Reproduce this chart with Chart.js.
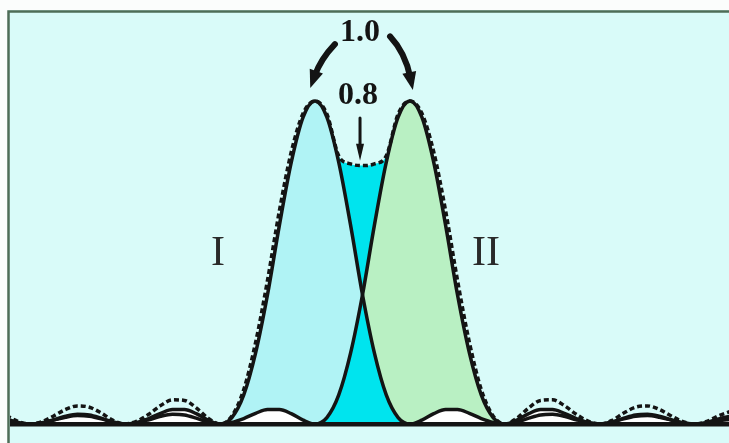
<!DOCTYPE html>
<html>
<head>
<meta charset="utf-8">
<script src="https://cdn.jsdelivr.net/npm/chart.js@4.4.1/dist/chart.umd.min.js"></script>
<style>
  html, body { margin: 0; padding: 0; background: #fff; }
  canvas { display: block; }
</style>
</head>
<body>
<canvas id="rayleigh" width="729" height="443"></canvas>
<script>
// positions along the screen, in units of the first-zero distance
const xs = [
  -3.25, -3.125, -3, -2.875, -2.75, -2.625, -2.5, -2.375, -2.25, -2.125,
  -2, -1.875, -1.75, -1.625, -1.5, -1.375, -1.25, -1.125, -1, -0.875,
  -0.75, -0.625, -0.5, -0.375, -0.25, -0.125, 0, 0.125, 0.25, 0.375,
  0.5, 0.625, 0.75, 0.875, 1, 1.125, 1.25, 1.375, 1.5, 1.625,
  1.75, 1.875, 2, 2.125, 2.25, 2.375, 2.5, 2.625, 2.75, 2.875,
  3, 3.125, 3.25, 3.375, 3.5, 3.625, 3.75, 3.875, 4, 4.125,
  4.25, 4.375
];

// intensity of source I
const curveI = [
  0.016, 0.005, 0, 0.004, 0.013, 0.024, 0.03, 0.028, 0.018, 0.006,
  0, 0.005, 0.017, 0.033, 0.045, 0.045, 0.032, 0.012, 0, 0.02,
  0.09, 0.22, 0.40, 0.615, 0.81, 0.95, 1.00, 0.95, 0.81, 0.615,
  0.40, 0.22, 0.09, 0.02, 0, 0.012, 0.032, 0.045, 0.045, 0.033,
  0.017, 0.005, 0, 0.006, 0.018, 0.028, 0.03, 0.024, 0.013, 0.004,
  0, 0.005, 0.016, 0.024, 0.026, 0.021, 0.012, 0.003, 0, 0.003,
  0.01, 0.015
];

// intensity of source II
const curveII = [
  0.01, 0.003, 0, 0.003, 0.012, 0.021, 0.026, 0.024, 0.016, 0.005,
  0, 0.004, 0.013, 0.024, 0.03, 0.028, 0.018, 0.006, 0, 0.005,
  0.017, 0.033, 0.045, 0.045, 0.032, 0.012, 0, 0.02, 0.09, 0.22,
  0.40, 0.615, 0.81, 0.95, 1.00, 0.95, 0.81, 0.615, 0.40, 0.22,
  0.09, 0.02, 0, 0.012, 0.032, 0.045, 0.045, 0.033, 0.017, 0.005,
  0, 0.006, 0.018, 0.028, 0.03, 0.024, 0.013, 0.004, 0, 0.005,
  0.016, 0.024
];

// combined intensity (dashed)
const total = [
  0.026, 0.008, 0, 0.007, 0.025, 0.045, 0.056, 0.052, 0.034, 0.011,
  0, 0.009, 0.03, 0.057, 0.075, 0.073, 0.05, 0.018, 0, 0.025,
  0.107, 0.253, 0.445, 0.66, 0.842, 0.962, 1.0, 0.96, 0.83, 0.805,
  0.80, 0.805, 0.83, 0.96, 1.0, 0.962, 0.842, 0.66, 0.445, 0.253,
  0.107, 0.025, 0, 0.018, 0.05, 0.073, 0.075, 0.057, 0.03, 0.009,
  0, 0.011, 0.034, 0.052, 0.056, 0.045, 0.025, 0.007, 0, 0.008,
  0.026, 0.039
];

const peakLabel = "1.0";
const dipLabel = "0.8";
const sourceNames = ["I", "II"];

const BG = "#d9fbf9";
const FILL_I = "#b0f3f5";
const FILL_II = "#b9f0c3";
const OVERLAP = "#00e4ee";
const INK = "#141414";
const CLEAR = "rgba(0,0,0,0)";

const pts = ys => xs.map((x, i) => ({ x: x, y: ys[i] }));

// colour a fill only outside the [lo, hi] stretch (the side lobes)
const outside = (lo, hi, color) => c =>
  (c.p0.parsed.x >= lo && c.p1.parsed.x <= hi) ? CLEAR : color;
const inside = (lo, hi, color) => c =>
  (c.p0.parsed.x >= lo && c.p1.parsed.x <= hi) ? color : CLEAR;

const framePlugin = {
  id: "frame",
  beforeDraw(chart) {
    const ctx = chart.ctx;
    ctx.save();
    ctx.fillStyle = "#fbfdfc";
    ctx.fillRect(0, 0, chart.width, chart.height);
    ctx.fillStyle = BG;
    ctx.fillRect(8, 10, chart.width - 8, chart.height - 10);
    ctx.strokeStyle = "#4e6d57";
    ctx.lineWidth = 2.5;
    ctx.beginPath();
    ctx.moveTo(8.5, chart.height);
    ctx.lineTo(8.5, 11.5);
    ctx.lineTo(chart.width, 11.5);
    ctx.stroke();
    ctx.restore();
  }
};

function arrow(ctx, p0, pc, p1, w, head, half) {
  const ang = Math.atan2(p1.y - pc.y, p1.x - pc.x);
  const cos = Math.cos(ang), sin = Math.sin(ang);
  ctx.lineWidth = w;
  ctx.lineCap = "round";
  ctx.beginPath();
  ctx.moveTo(p0.x, p0.y);
  ctx.quadraticCurveTo(pc.x, pc.y, p1.x - cos * head * 0.7, p1.y - sin * head * 0.7);
  ctx.stroke();
  ctx.beginPath();
  ctx.moveTo(p1.x, p1.y);
  ctx.lineTo(p1.x - cos * head + sin * half, p1.y - sin * head - cos * half);
  ctx.lineTo(p1.x - cos * head - sin * half, p1.y - sin * head + cos * half);
  ctx.closePath();
  ctx.fill();
}

const notesPlugin = {
  id: "notes",
  afterDraw(chart) {
    const { ctx } = chart;
    const sx = chart.scales.x, sy = chart.scales.y;
    const at = (u, v) => ({ x: sx.getPixelForValue(u), y: sy.getPixelForValue(v) });
    ctx.save();
    ctx.fillStyle = INK;
    ctx.strokeStyle = INK;

    // arrows from the peak label to both maxima, and down to the dip
    arrow(ctx, at(0.21, 1.176), at(0.06, 1.13), at(-0.05, 1.04), 6, 18, 7);
    arrow(ctx, at(0.79, 1.2), at(0.95, 1.15), at(1.03, 1.034), 6, 18, 7);
    arrow(ctx, at(0.474, 0.947), at(0.474, 0.88), at(0.474, 0.815), 3, 17, 4);

    ctx.textAlign = "center";
    ctx.textBaseline = "middle";
    ctx.font = "bold 32px 'Liberation Serif', 'Times New Roman', serif";
    let p = at(0.474, 1.21);
    ctx.fillText(peakLabel, p.x, p.y);
    p = at(0.453, 1.015);
    ctx.fillText(dipLabel, p.x, p.y);

    ctx.fillStyle = "#2a2a2a";
    ctx.font = "42px 'Liberation Serif', 'Times New Roman', serif";
    p = at(-1.02, 0.527);
    ctx.fillText(sourceNames[0], p.x, p.y);
    p = at(1.8, 0.527);
    ctx.fillText(sourceNames[1], p.x, p.y);
    ctx.restore();
  }
};

const ctx = document.getElementById("rayleigh").getContext("2d");

new Chart(ctx, {
  type: "line",
  data: {
    datasets: [
      // outlines of the two single-source patterns
      { label: "I", data: pts(curveI), borderColor: INK, borderWidth: 3.5, fill: false, order: 1 },
      { label: "II", data: pts(curveII), borderColor: INK, borderWidth: 3.5, fill: false, order: 1 },
      // resulting pattern, dashed
      { label: "I+II", data: pts(total), borderColor: INK, borderWidth: 3.5, borderDash: [5, 3],
        fill: false, order: 2 },
      // white side lobes
      { data: pts(curveI), borderWidth: 0, backgroundColor: CLEAR, fill: "origin", order: 3,
        segment: { backgroundColor: outside(-1, 1, "#ffffff") } },
      { data: pts(curveII), borderWidth: 0, backgroundColor: CLEAR, fill: "origin", order: 3,
        segment: { backgroundColor: outside(0, 2, "#ffffff") } },
      // part where one source dominates
      { data: pts(curveII), borderWidth: 0, order: 4,
        fill: { target: 0, above: FILL_II, below: FILL_I } },
      // overlap and the dip between the maxima
      { data: pts(total), borderWidth: 0, backgroundColor: CLEAR, fill: "origin", order: 5,
        segment: { backgroundColor: inside(0, 1, OVERLAP) } }
    ]
  },
  options: {
    responsive: false,
    animation: false,
    layout: { padding: { left: 10, top: 13, right: 0, bottom: 0 } },
    elements: {
      point: { radius: 0, hoverRadius: 0 },
      line: { cubicInterpolationMode: "monotone" }
    },
    plugins: {
      legend: { display: false },
      tooltip: { enabled: false }
    },
    scales: {
      x: { type: "linear", min: -3.2105, max: 4.3579, display: false },
      y: {
        min: -0.0588,
        max: 1.2724,
        afterBuildTicks: axis => { axis.ticks = [{ value: 0 }]; },
        ticks: { display: false },
        border: { display: false },
        grid: { z: 1, color: INK, lineWidth: 4.5, drawTicks: false }
      }
    }
  },
  plugins: [framePlugin, notesPlugin]
});
</script>
</body>
</html>
